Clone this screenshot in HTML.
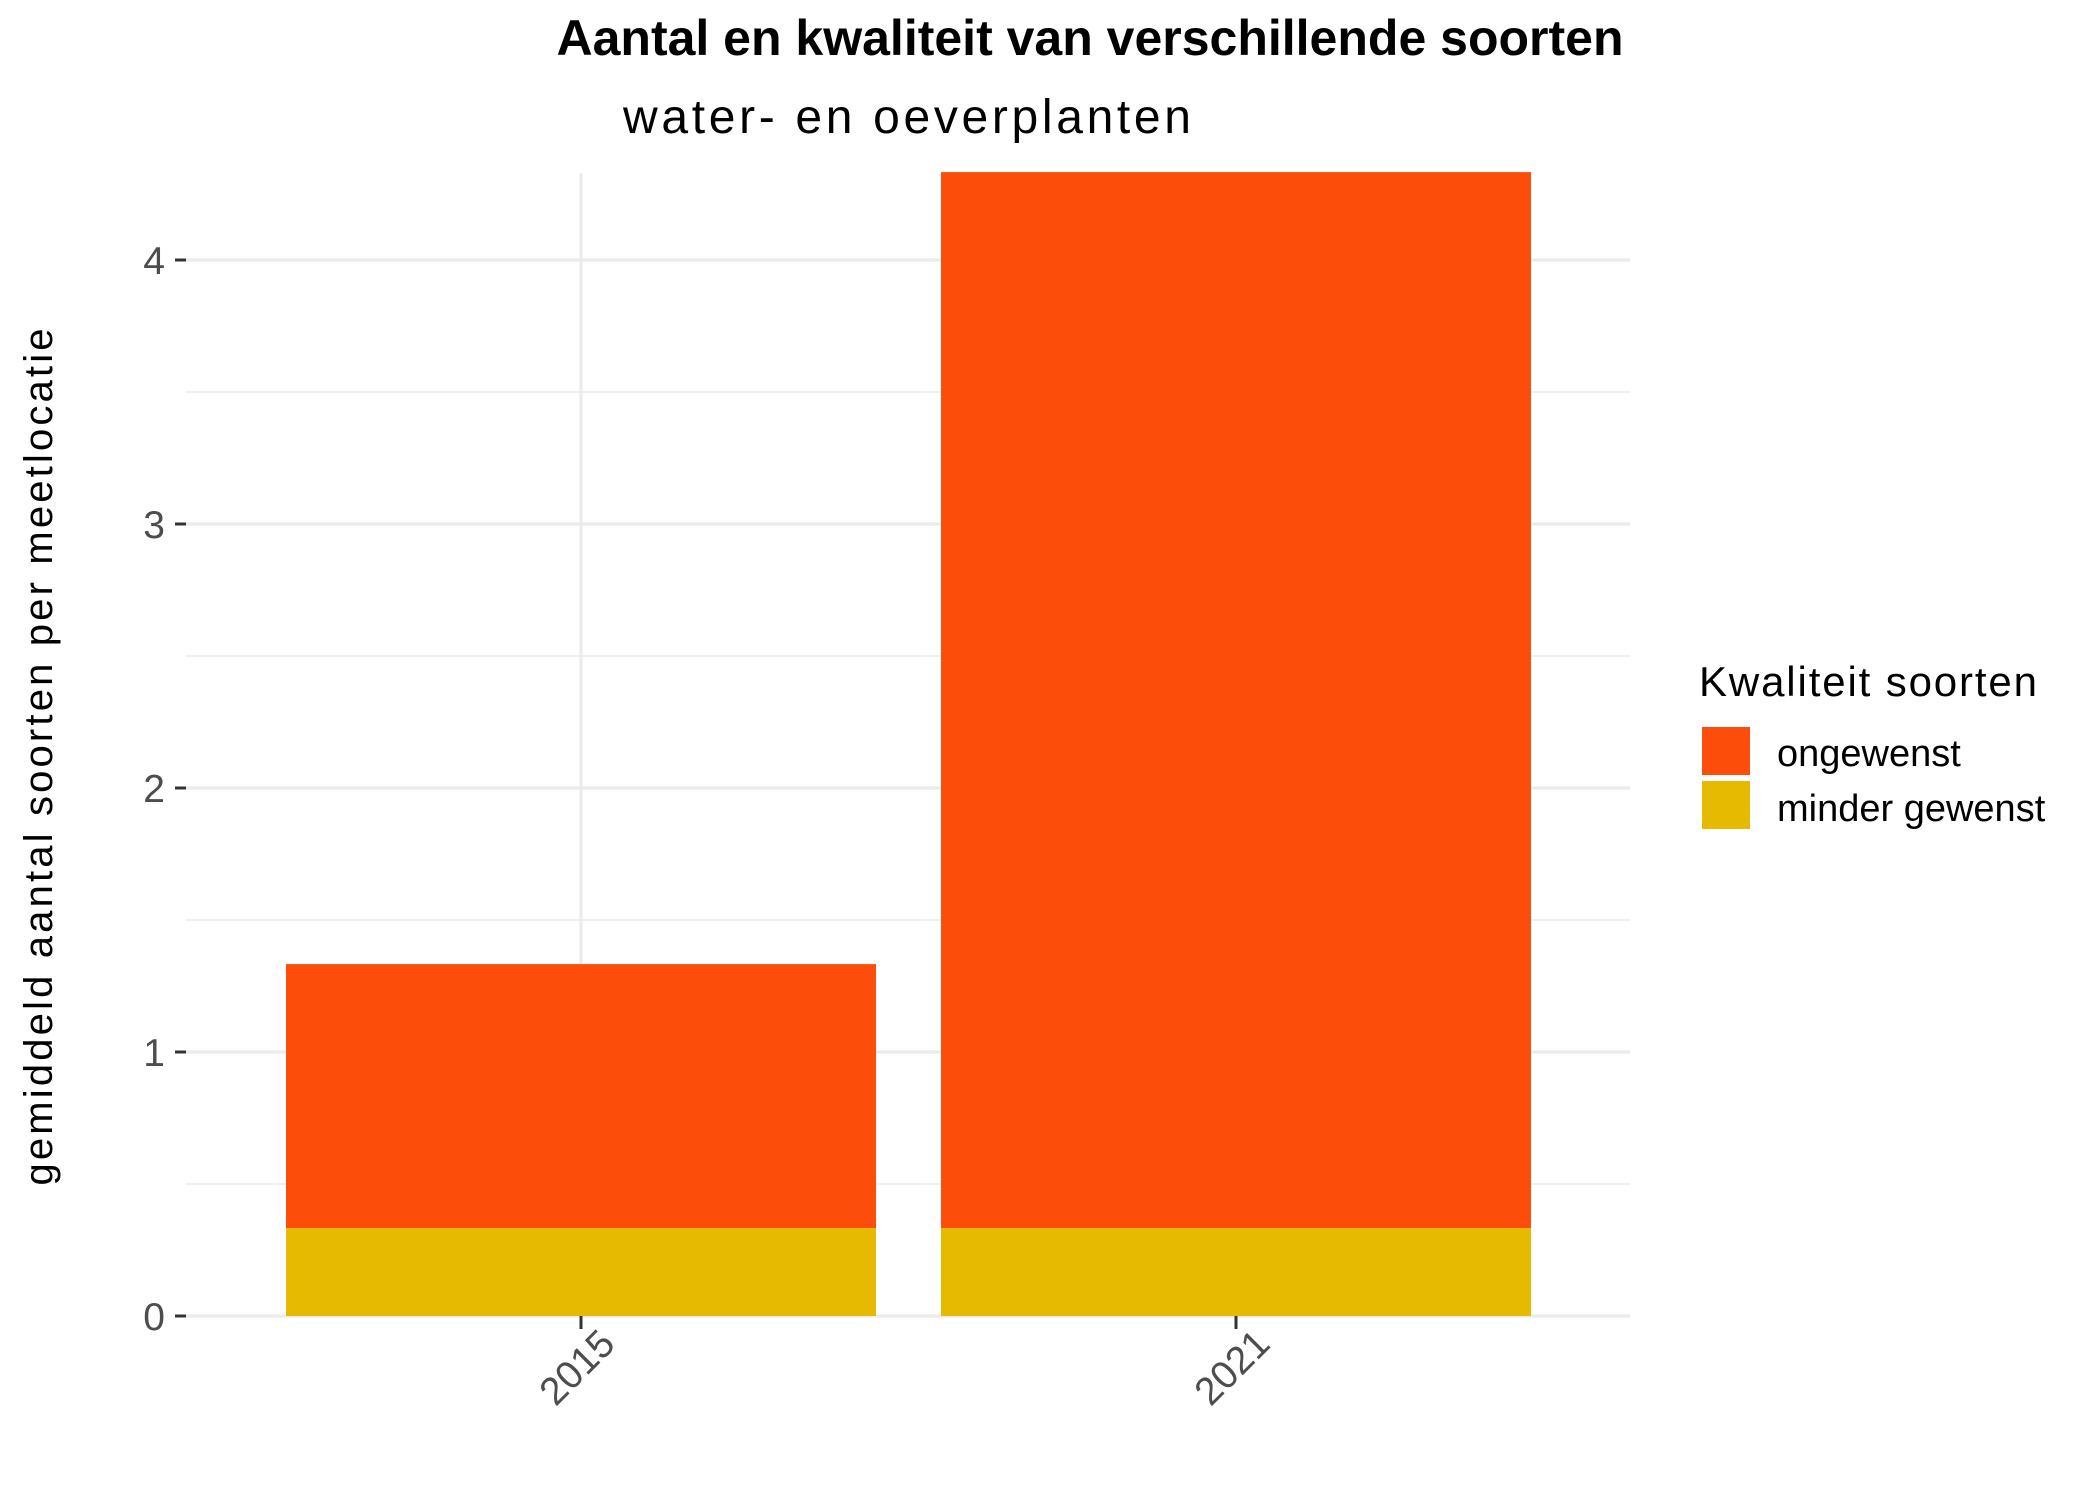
<!DOCTYPE html>
<html><head><meta charset="utf-8"><style>
html,body{margin:0;padding:0;background:#fff}
svg{display:block;font-family:"Liberation Sans",Arial,sans-serif}
</style></head><body>
<svg id="chart" width="2100" height="1500" viewBox="0 0 2100 1500">
<text x="1090" y="55" text-anchor="middle" font-size="50" font-weight="bold" fill="#000">Aantal en kwaliteit van verschillende soorten</text>
<text x="907" y="133" text-anchor="middle" font-size="48" fill="#000" textLength="568">water- en oeverplanten</text>
<g id="grid"></g>
<g id="bars"></g>
<g id="axes"></g>
<text transform="translate(52,757) rotate(-90)" text-anchor="middle" font-size="40" fill="#000" textLength="857">gemiddeld aantal soorten per meetlocatie</text>
<g>
<text x="1699" y="696" font-size="42" fill="#000" textLength="338">Kwaliteit soorten</text>
<rect x="1702" y="727" width="48" height="48" fill="#FC4E0A"/>
<rect x="1702" y="781" width="48" height="48" fill="#E6BA00"/>
<text x="1777" y="766" font-size="38" fill="#000">ongewenst</text>
<text x="1777" y="821" font-size="38" fill="#000">minder gewenst</text>
</g>
</svg>
<script>
const categories = ["2015", "2021"];
const minderGewenst = [0.333, 0.333];
const ongewenst = [1.0, 4.0];
const yTicks = [0, 1, 2, 3, 4];
const yMinor = [0.5, 1.5, 2.5, 3.5];

const NS = "http://www.w3.org/2000/svg";
const plotL = 186, plotR = 1630, plotT = 173;
const y0px = 1316, unitPx = 264;
function yScale(v){ return y0px - v * unitPx; }
const band = (plotR - plotL) / categories.length;
function xScale(i){ return plotL + band * (i + 0.5) - 72 + 72 * 0; }
function xCenter(i){ const c = [581, 1236]; return plotL + (i + 0.5) * band + (i === 0 ? 4 : -4) * 0 + (i===0? -14 : 14) * 0 + (i===0?-(plotL+(0.5)*band-581):-(plotL+1.5*band-1236)); }
const barW = 590;
function mk(tag, attrs, parent){ const e = document.createElementNS(NS, tag); for (const k in attrs) e.setAttribute(k, attrs[k]); parent.appendChild(e); return e; }

const grid = document.getElementById('grid');
yMinor.forEach(v => {
  const l = mk('line', {x1: plotL, x2: plotR, y1: yScale(v), y2: yScale(v), stroke: '#ebebeb', 'stroke-width': 1.6}, grid);
  
  
});
yTicks.forEach(v => {
  const l = mk('line', {x1: plotL, x2: plotR, y1: yScale(v), y2: yScale(v), stroke: '#ebebeb', 'stroke-width': 3.2}, grid);
  
  
});
categories.forEach((c, i) => {
  const l = mk('line', {x1: xCenter(i), x2: xCenter(i), y1: plotT, y2: y0px, stroke: '#ebebeb', 'stroke-width': 3.2}, grid);
  
  
});

const bars = document.getElementById('bars');
categories.forEach((c, i) => {
  const x = xCenter(i) - barW / 2;
  const a = minderGewenst[i], b = ongewenst[i];
  const r1 = mk('rect', {x: x, y: yScale(a), width: barW, height: yScale(0) - yScale(a), fill: '#E6BA00'}, bars);
  
  
  const r2 = mk('rect', {x: x, y: yScale(a + b), width: barW, height: yScale(a) - yScale(a + b), fill: '#FC4E0A'}, bars);
  
  
});

const axes = document.getElementById('axes');
yTicks.forEach(v => {
  const t = mk('line', {x1: 175, x2: plotL, y1: yScale(v), y2: yScale(v), stroke: '#333', 'stroke-width': 3}, axes);
  
  
  const tx = mk('text', {x: 165, y: yScale(v) + 14, 'text-anchor': 'end', 'font-size': 39, fill: '#4d4d4d'}, axes);
  tx.textContent = v;
  
  
});
categories.forEach((c, i) => {
  const cx = xCenter(i);
  const t = mk('line', {x1: cx, x2: cx, y1: y0px, y2: y0px + 13, stroke: '#333', 'stroke-width': 3}, axes);
  
  
  const tx = mk('text', {transform: 'translate(' + (cx + 36) + ',' + (y0px + 30) + ') rotate(-45)', 'text-anchor': 'end', 'font-size': 39, fill: '#4d4d4d'}, axes);
  tx.textContent = c;
  
  
});
</script>
</body></html>
